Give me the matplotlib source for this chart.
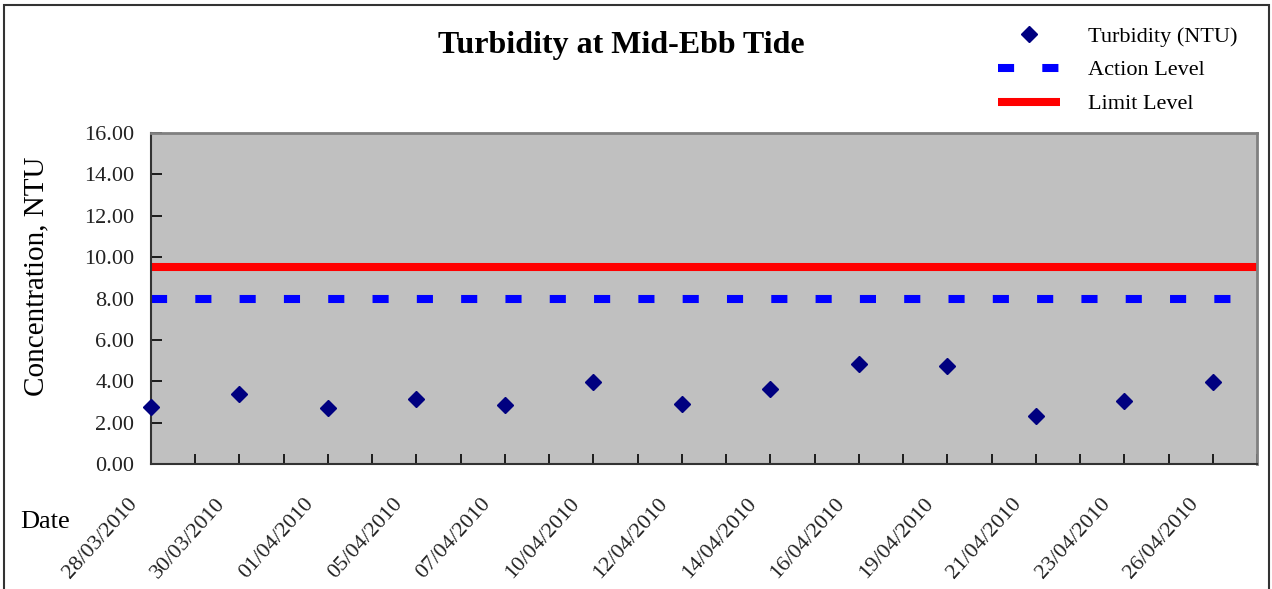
import numpy as np
import matplotlib.pyplot as plt
import matplotlib.transforms as mtransforms
from matplotlib.patches import Rectangle

plt.rcParams['font.family'] = ['Liberation Serif', 'DejaVu Serif']

# Sampling dates (labelled every other category slot)
dates = ['28/03/2010', '30/03/2010', '01/04/2010', '05/04/2010', '07/04/2010',
         '10/04/2010', '12/04/2010', '14/04/2010', '16/04/2010', '19/04/2010',
         '21/04/2010', '23/04/2010', '26/04/2010']
turbidity = [2.75, 3.38, 2.71, 3.14, 2.85, 3.96, 2.90, 3.62, 4.83, 4.74, 2.32, 3.04, 3.96]
action_level = 8.0
limit_level = 9.5
n_slots = 25

W, H = 1272, 589
fig = plt.figure(figsize=(W / 100, H / 100), dpi=100)
ax = fig.add_axes([151 / W, 1 - 464 / H, (1257 - 151) / W, (464 - 133) / H])
ax.set_facecolor('#c0c0c0')

pos = np.arange(len(dates)) * 2
ax.plot([0, n_slots], [limit_level] * 2, color='red', lw=5.8, solid_capstyle='butt',
        label='Limit Level', zorder=2)
ax.plot([0, n_slots], [action_level] * 2, color='blue', lw=5.8, dashes=(2.0, 3.5),
        dash_capstyle='butt', label='Action Level', zorder=2)
ax.plot(pos, turbidity, 'D', color='#000080', ms=8, label='Turbidity (NTU)',
        zorder=3, clip_on=False)

ax.set_xlim(0, n_slots)
ax.set_ylim(0, 16)
ax.set_yticks(np.arange(0, 17, 2))
ax.set_yticklabels([f'{v:.2f}' for v in np.arange(0, 17, 2)], fontsize=16, color='#222222')
ax.set_xticks(np.arange(0, n_slots + 1), minor=True)
ax.set_xticks(pos)
ax.set_xticklabels(dates, rotation=48, ha='right', va='top', rotation_mode='anchor',
                   fontsize=16, color='#222222')
ax.tick_params(axis='x', which='both', direction='in', length=7, width=1.2, pad=22)
ax.tick_params(axis='y', direction='in', length=8, width=1.2, pad=12)
shift = mtransforms.ScaledTranslation(-24 / 100, 0, fig.dpi_scale_trans)
for lab in ax.get_xticklabels():
    lab.set_transform(lab.get_transform() + shift)

for s in ['top', 'right']:
    ax.spines[s].set_color('#808080')
    ax.spines[s].set_linewidth(2)
for s in ['left', 'bottom']:
    ax.spines[s].set_color('#333333')
    ax.spines[s].set_linewidth(1.5)

ax.set_ylabel('Concentration, NTU', fontsize=21)
ax.yaxis.set_label_coords((49 - 151) / 1106, (464 - 276) / 331)
fig.text(20 / W, 1 - 522 / H, 'Date', fontsize=19, va='center', ha='left')
fig.text(621 / W, 1 - 46 / H, 'Turbidity at Mid-Ebb Tide', fontsize=23,
         fontweight='bold', ha='center', va='center')

handles, labels = ax.get_legend_handles_labels()
order = [2, 1, 0]
fig.legend([handles[i] for i in order], [labels[i] for i in order],
           loc='upper left', bbox_to_anchor=(998 / W, 1 - 26 / H), frameon=False,
           fontsize=16, handlelength=2.8, handletextpad=1.25, labelspacing=0.6,
           borderaxespad=0, borderpad=0)

fig.patches.append(Rectangle((4 / W, -0.05), (1269 - 4) / W, 1.05 - 5 / H,
                             transform=fig.transFigure, fill=False,
                             edgecolor='#333333', lw=1.5))

fig.savefig('out.png', dpi=100)
